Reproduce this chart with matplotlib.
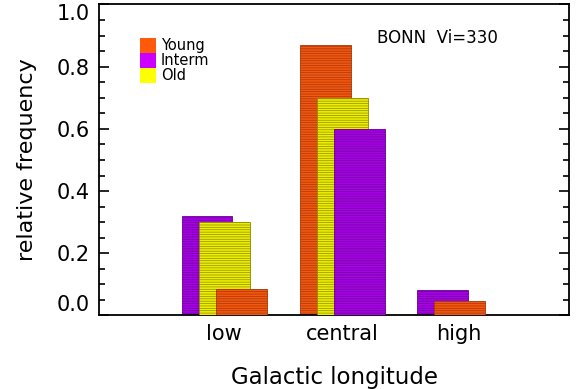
import matplotlib
matplotlib.use("Agg")
import matplotlib.pyplot as plt
from matplotlib.patches import Rectangle
from matplotlib.ticker import MultipleLocator

# relative frequency per longitude bin
groups = ['low', 'central', 'high']
young = [0.084, 0.87, 0.048]
interm = [0.321, 0.60, 0.082]
old = [0.30, 0.70, 0.0]

pops = ['Young', 'Interm', 'Old']
values = {'Young': young, 'Interm': interm, 'Old': old}
fill = {'Young': '#f2580f', 'Interm': '#a800e8', 'Old': '#eeee00'}
hatchcol = {'Young': '#a8360a', 'Interm': '#6a0096', 'Old': '#8c8c00'}
legend_col = {'Young': '#ff5a0a', 'Interm': '#cc00ff', 'Old': '#ffff00'}

plt.rcParams['font.family'] = 'DejaVu Sans'
plt.rcParams['hatch.linewidth'] = 0.5

fig = plt.figure(figsize=(5.8, 3.89), dpi=100)
ax = fig.add_axes([0.171, 0.189, 0.810, 0.7995])

centers = [1.063, 2.07, 3.066]
width = 0.434
step = 0.145

for i, g in enumerate(groups):
    # tallest bar on the left, shorter ones stacked to the right on top
    order = sorted(pops, key=lambda p: -values[p][i])
    for k, p in enumerate(order):
        v = values[p][i]
        if v <= 0:
            continue
        left = centers[i] - width / 2 - step + k * step
        ax.bar(left, v, width=width, align='edge', color=fill[p],
               edgecolor=hatchcol[p], linewidth=0.6, hatch='-------',
               zorder=2 + k)

ax.set_xlim(0, 4)
ax.set_ylim(0, 1.0)
ax.set_xticks(centers)
ax.set_xticklabels(groups)
ax.yaxis.set_major_locator(MultipleLocator(0.2))
ax.yaxis.set_minor_locator(MultipleLocator(0.05))
ax.set_yticks([0.0, 0.2, 0.4, 0.6, 0.8, 1.0])
ax.set_yticklabels(['0.0', '0.2', '0.4', '0.6', '0.8', '1.0'])
ax.tick_params(axis='y', which='both', direction='in', left=True, right=True,
               labelsize=15, width=1.2, pad=7)
ax.tick_params(axis='y', which='major', length=7)
ax.tick_params(axis='y', which='minor', length=4)
ax.tick_params(axis='x', which='both', length=0, labelsize=15, pad=6)
ylabels = ax.get_yticklabels()
ylabels[0].set_va('bottom')
ylabels[-1].set_va('top')
for s in ax.spines.values():
    s.set_linewidth(1.3)

ax.set_xlabel('Galactic longitude', fontsize=16.5, labelpad=16)
ax.set_ylabel('relative frequency', fontsize=16, labelpad=14)

# legend boxes
for k, p in enumerate(pops):
    y0 = 0.892 - (k + 1) * 0.048
    ax.add_patch(Rectangle((0.0866, y0), 0.034, 0.048, transform=ax.transAxes,
                           facecolor=legend_col[p], edgecolor='none', zorder=10))
    ax.text(0.131, y0 + 0.024, p, transform=ax.transAxes, fontsize=10.5,
            va='center', ha='left', zorder=10)

ax.text(0.591, 0.892, 'BONN  Vi=330', transform=ax.transAxes, fontsize=12,
        va='center', ha='left')

fig.savefig('out.png', dpi=100)
